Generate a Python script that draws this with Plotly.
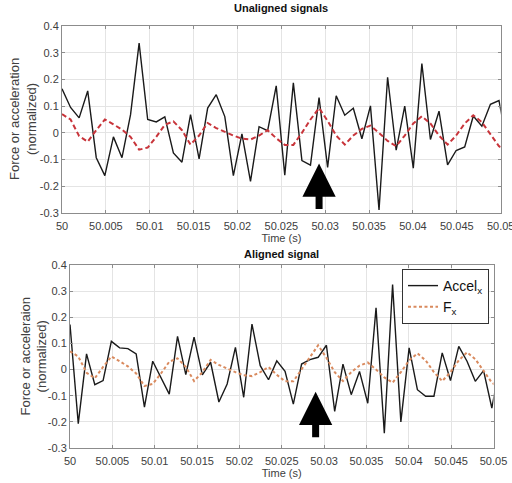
import plotly.graph_objects as go

# ---------------- data ----------------
sample_rate = 1024.0          # Hz (sample spacing read from the vertices)
t_start = 50.0

accel_unaligned = [0.165, 0.095, 0.056, 0.157, -0.093, -0.16, -0.015, -0.093, 0.068, 0.336,
                   0.05, 0.041, 0.06, -0.075, -0.11, 0.068, -0.097, 0.093, 0.143, 0.061,
                   -0.16, -0.004, -0.182, 0.023, 0.008, 0.176, -0.158, 0.187, -0.104, -0.121,
                   0.132, -0.129, 0.139, 0.066, 0.092, -0.022, 0.101, -0.289, 0.208, -0.065,
                   0.1, -0.132, 0.259, -0.025, 0.081, -0.12, -0.066, -0.053, 0.063, 0.025,
                   0.107, 0.121, -0.05]

accel_aligned = [0.172, -0.207, 0.06, -0.058, -0.042, 0.108, 0.083, 0.08, 0.06, -0.144,
                 0.032, -0.03, -0.094, 0.127, -0.019, 0.124, -0.02, 0.028, -0.124, -0.055,
                 0.085, -0.106, 0.174, 0.015, -0.039, 0.033, -0.007, -0.132, 0.021, 0.038,
                 0.047, 0.093, -0.16, 0.021, -0.096, -0.007, -0.129, 0.236, -0.243, 0.325,
                 -0.2, 0.083, -0.077, -0.102, -0.102, 0.064, -0.042, 0.089, 0.032, -0.045,
                 -0.004, -0.147, 0.02]

force_x = [0.07, 0.05, -0.012, -0.033, 0.01, 0.05, 0.032, 0.012, -0.015, -0.063,
           -0.055, -0.015, 0.03, 0.043, 0.01, -0.044, -0.01, 0.037, 0.018, 0.003,
           -0.01, -0.022, -0.025, -0.01, 0.01, -0.02, -0.045, -0.045, 0.0, 0.05,
           0.093, 0.045, -0.01, -0.044, -0.01, 0.015, 0.027, 0.0, -0.03, -0.05,
           -0.01, 0.035, 0.062, 0.035, -0.01, -0.044, -0.01, 0.035, 0.066, 0.04,
           -0.005, -0.05, -0.07]

time = [t_start + k / sample_rate for k in range(len(force_x))]

x_tick_vals = [50, 50.005, 50.01, 50.015, 50.02, 50.025, 50.03, 50.035, 50.04, 50.045, 50.05]
x_tick_text = ["50", "50.005", "50.01", "50.015", "50.02", "50.025", "50.03", "50.035",
               "50.04", "50.045", "50.05"]
y_tick_vals = [0.4, 0.3, 0.2, 0.1, 0, -0.1, -0.2, -0.3]
y_tick_text = ["0.4", "0.3", "0.2", "0.1", "0", "-0.1", "-0.2", "-0.3"]

top_title = "Unaligned signals"
bottom_title = "Aligned signal"
x_title = "Time (s)"
y_title_top = "Force or acceleration<br>(normalized)"
y_title_bottom = "Force or acceleraion<br>(normalized)"

arrow_top = (50.0293, -0.115)
arrow_bottom = (50.0290, -0.085)

# ---------------- figure ----------------
FONT = "Liberation Sans, Arial, sans-serif"
W, H = 512, 483
X_RANGE = [50, 50.0500001]

TOP_X = [62, 500.7]
TOP_Y = [26, 213]
BOT_X = [70, 493.5]
BOT_Y = [265, 448]

fig = go.Figure()

fig.add_trace(go.Scatter(x=time, y=accel_unaligned, mode="lines",
                         line=dict(color="#1a1a1a", width=1.4),
                         xaxis="x", yaxis="y", showlegend=False))
fig.add_trace(go.Scatter(x=time, y=force_x, mode="lines",
                         line=dict(color="#c8343a", width=2, dash="5px,3px"),
                         xaxis="x", yaxis="y", showlegend=False))

fig.add_trace(go.Scatter(x=time, y=accel_aligned, mode="lines", name="Accel<sub>x</sub>",
                         line=dict(color="#1a1a1a", width=1.4),
                         xaxis="x2", yaxis="y2"))
fig.add_trace(go.Scatter(x=time, y=force_x, mode="lines", name="F<sub>x</sub>",
                         line=dict(color="#d98a5e", width=2, dash="3px,2.5px"),
                         xaxis="x2", yaxis="y2"))

def xaxis(domain, anchor):
    return dict(domain=domain, anchor=anchor, range=X_RANGE,
                tickvals=x_tick_vals, ticktext=x_tick_text,
                showgrid=True, gridcolor="#e4e4e4", gridwidth=1,
                showline=True, linecolor="#8c8c8c", linewidth=1, mirror="ticks",
                ticks="inside", ticklen=3, tickcolor="#8c8c8c",
                ticklabeloverflow="allow", ticklabelstandoff=3,
                tickfont=dict(family=FONT, size=11, color="#404040"),
                title=dict(text=x_title, font=dict(family=FONT, size=11, color="#404040"),
                           standoff=2),
                zeroline=False, automargin=False)

def yaxis(domain, anchor):
    return dict(domain=domain, anchor=anchor, range=[-0.3, 0.4],
                tickvals=y_tick_vals, ticktext=y_tick_text,
                showgrid=True, gridcolor="#e4e4e4", gridwidth=1,
                showline=True, linecolor="#8c8c8c", linewidth=1, mirror="ticks",
                ticks="inside", ticklen=3, tickcolor="#8c8c8c",
                ticklabeloverflow="allow",
                tickfont=dict(family=FONT, size=11, color="#404040"),
                zeroline=False, automargin=False)

title_font = dict(family=FONT, size=13, color="#404040")

fig.update_layout(
    width=W, height=H,
    margin=dict(l=0, r=0, t=0, b=0),
    paper_bgcolor="white", plot_bgcolor="white",
    font=dict(family=FONT, color="#404040"),
    xaxis=xaxis([TOP_X[0] / W, TOP_X[1] / W], "y"),
    yaxis=yaxis([1 - TOP_Y[1] / H, 1 - TOP_Y[0] / H], "x"),
    xaxis2=xaxis([BOT_X[0] / W, BOT_X[1] / W], "y2"),
    yaxis2=yaxis([1 - BOT_Y[1] / H, 1 - BOT_Y[0] / H], "x2"),
    legend=dict(x=489 / W, xanchor="right", y=1 - 269 / H, yanchor="top",
                bgcolor="white", bordercolor="#333333", borderwidth=1,
                font=dict(family=FONT, size=14, color="#111111"),
                itemwidth=30, tracegroupgap=0),
    annotations=[
        dict(text="<b>" + top_title + "</b>", x=(TOP_X[0] + TOP_X[1]) / 2 / W, y=1 - 8 / H,
             xref="paper", yref="paper", showarrow=False, yanchor="middle",
             font=dict(family=FONT, size=11, color="#111111")),
        dict(text="<b>" + bottom_title + "</b>", x=(BOT_X[0] + BOT_X[1]) / 2 / W,
             y=1 - 254 / H, xref="paper", yref="paper", showarrow=False, yanchor="middle",
             font=dict(family=FONT, size=11, color="#111111")),
        dict(text=y_title_top, textangle=-90, x=22.5 / W, xanchor="center",
             y=1 - (TOP_Y[0] + TOP_Y[1]) / 2 / H, yanchor="middle",
             xref="paper", yref="paper", showarrow=False, font=title_font),
        dict(text=y_title_bottom, textangle=-90, x=33 / W, xanchor="center",
             y=1 - (BOT_Y[0] + BOT_Y[1]) / 2 / H, yanchor="middle",
             xref="paper", yref="paper", showarrow=False, font=title_font),
        dict(text="", x=arrow_top[0], y=arrow_top[1], xref="x", yref="y",
             ax=0, ay=47, showarrow=True, arrowhead=2, arrowsize=0.95,
             arrowwidth=7, arrowcolor="black", standoff=0),
        dict(text="", x=arrow_bottom[0], y=arrow_bottom[1], xref="x2", yref="y2",
             ax=0, ay=47, showarrow=True, arrowhead=2, arrowsize=0.95,
             arrowwidth=7, arrowcolor="black", standoff=0),
    ],
)

fig.write_html("out.html", config={"displayModeBar": False},
               post_script="document.body.style.margin='0';document.body.style.padding='0';")
